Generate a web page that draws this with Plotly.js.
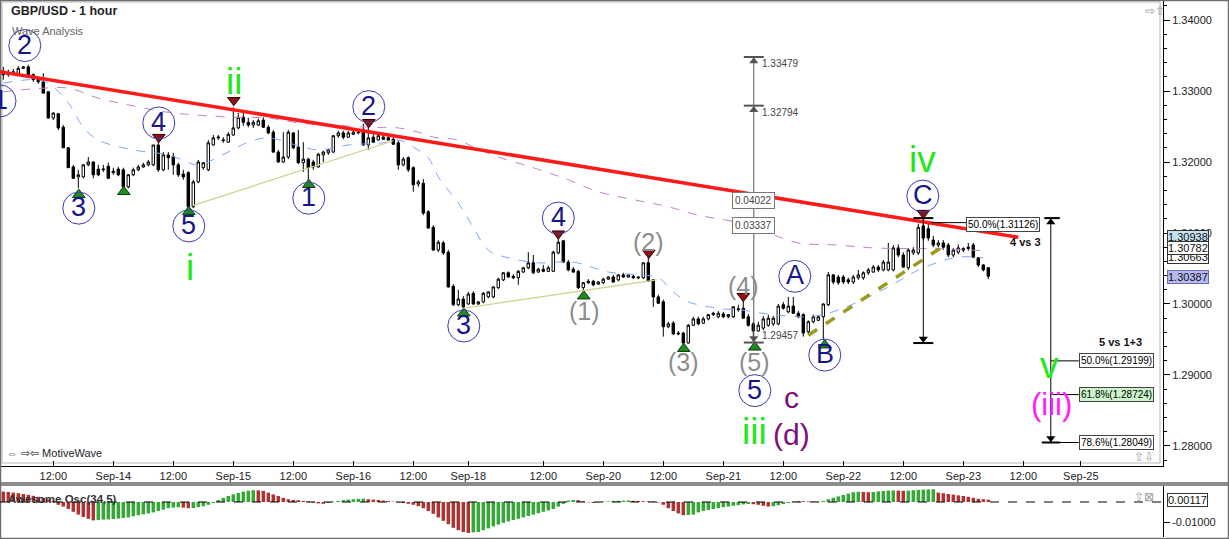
<!DOCTYPE html>
<html><head><meta charset="utf-8">
<script src="https://cdn.plot.ly/plotly-3.0.1.min.js"></script>
<style>html,body{margin:0;padding:0;background:#fff}#chart{width:1229px;height:539px}</style>
</head><body><div id="chart"></div>
<script>
// ---------- DATA (GBP/USD, 1 hour candles) ----------
const open = [
1.3328,1.3323,1.3325,1.3325,1.3332,1.3334,1.3323,1.3317,1.3313,1.3299,
1.3262,1.3268,1.3249,1.3220,1.3193,1.3179,1.3179,1.3196,1.3200,1.3190,
1.3189,1.3194,1.3185,1.3190,1.3189,1.3165,1.3182,1.3189,1.3193,1.3196,
1.3196,1.3224,1.3189,1.3210,1.3208,1.3196,1.3183,1.3185,1.3137,1.3172,
1.3192,1.3189,1.3224,1.3234,1.3230,1.3228,1.3238,1.3248,1.3263,1.3256,
1.3252,1.3252,1.3259,1.3249,1.3242,1.3214,1.3200,1.3207,1.3241,1.3221,
1.3199,1.3204,1.3200,1.3193,1.3210,1.3213,1.3214,1.3237,1.3241,1.3235,
1.3239,1.3241,1.3246,1.3224,1.3235,1.3231,1.3235,1.3234,1.3232,1.3227,
1.3196,1.3206,1.3192,1.3169,1.3170,1.3130,1.3108,1.3076,1.3086,1.3073,
1.3025,1.2999,1.3007,1.3000,1.3015,1.3000,1.3003,1.3010,1.3010,1.3023,
1.3034,1.3044,1.3039,1.3037,1.3045,1.3051,1.3058,1.3045,1.3049,1.3046,
1.3046,1.3072,1.3089,1.3059,1.3049,1.3046,1.3023,1.3030,1.3032,1.3028,
1.3030,1.3035,1.3038,1.3034,1.3041,1.3038,1.3039,1.3038,1.3037,1.3058,
1.3034,1.3010,1.3003,1.2968,1.2973,1.2959,1.2959,1.2945,1.2970,1.2979,
1.2973,1.2979,1.2985,1.2982,1.2986,1.2982,1.2982,1.2992,1.2994,1.2982,
1.2972,1.2962,1.2966,1.2970,1.2972,1.2972,1.2999,1.2989,1.2997,1.2987,
1.2985,1.2961,1.2975,1.2977,1.2982,1.2999,1.3041,1.3038,1.3038,1.3034,
1.3031,1.3037,1.3037,1.3044,1.3045,1.3052,1.3048,1.3048,1.3048,1.3079,
1.3069,1.3051,1.3072,1.3072,1.3110,1.3106,1.3090,1.3083,1.3086,1.3083,
1.3069,1.3073,1.3076,1.3078,1.3083,1.3065,1.3055,1.3051];
const high = [
1.3334,1.3330,1.3331,1.3335,1.3335,1.3337,1.3325,1.3320,1.3325,1.3299,
1.3270,1.3269,1.3252,1.3221,1.3196,1.3189,1.3197,1.3207,1.3201,1.3196,
1.3196,1.3199,1.3192,1.3193,1.3192,1.3183,1.3192,1.3196,1.3199,1.3203,
1.3224,1.3232,1.3214,1.3214,1.3213,1.3199,1.3189,1.3187,1.3175,1.3203,
1.3200,1.3231,1.3238,1.3238,1.3235,1.3242,1.3277,1.3269,1.3269,1.3262,
1.3259,1.3261,1.3263,1.3252,1.3245,1.3217,1.3242,1.3245,1.3242,1.3245,
1.3228,1.3206,1.3203,1.3213,1.3216,1.3218,1.3238,1.3244,1.3244,1.3244,
1.3245,1.3246,1.3254,1.3255,1.3241,1.3239,1.3239,1.3237,1.3235,1.3230,
1.3207,1.3208,1.3194,1.3175,1.3176,1.3132,1.3111,1.3090,1.3089,1.3076,
1.3028,1.3020,1.3011,1.3017,1.3018,1.3004,1.3017,1.3018,1.3025,1.3037,
1.3045,1.3046,1.3042,1.3048,1.3052,1.3073,1.3069,1.3051,1.3055,1.3054,
1.3075,1.3093,1.3090,1.3062,1.3052,1.3048,1.3031,1.3035,1.3034,1.3032,
1.3037,1.3039,1.3041,1.3042,1.3044,1.3042,1.3041,1.3039,1.3059,1.3068,
1.3035,1.3013,1.3006,1.2975,1.2976,1.2962,1.2961,1.2972,1.2982,1.2982,
1.2982,1.2986,1.2989,1.2990,1.2989,1.2986,1.2997,1.2999,1.3007,1.2986,
1.2975,1.2975,1.2983,1.2985,1.2983,1.3000,1.3003,1.3010,1.3010,1.2990,
1.2987,1.2977,1.2985,1.2983,1.3001,1.3045,1.3042,1.3041,1.3041,1.3037,
1.3041,1.3048,1.3046,1.3051,1.3055,1.3055,1.3062,1.3086,1.3083,1.3084,
1.3073,1.3079,1.3080,1.3113,1.3121,1.3113,1.3096,1.3090,1.3090,1.3086,
1.3079,1.3084,1.3080,1.3086,1.3086,1.3066,1.3056,1.3052];
const low = [
1.3316,1.3320,1.3323,1.3323,1.3331,1.3320,1.3313,1.3310,1.3297,1.3261,
1.3259,1.3245,1.3220,1.3192,1.3177,1.3163,1.3177,1.3194,1.3177,1.3180,
1.3186,1.3177,1.3182,1.3180,1.3162,1.3163,1.3180,1.3187,1.3192,1.3194,
1.3194,1.3186,1.3187,1.3189,1.3182,1.3179,1.3175,1.3135,1.3135,1.3170,
1.3189,1.3187,1.3223,1.3231,1.3227,1.3227,1.3237,1.3246,1.3251,1.3249,
1.3248,1.3251,1.3248,1.3239,1.3213,1.3199,1.3199,1.3204,1.3218,1.3197,
1.3186,1.3172,1.3189,1.3192,1.3200,1.3210,1.3213,1.3234,1.3232,1.3234,
1.3238,1.3239,1.3223,1.3217,1.3227,1.3230,1.3231,1.3230,1.3224,1.3189,
1.3194,1.3186,1.3158,1.3165,1.3125,1.3106,1.3075,1.3073,1.3069,1.3023,
1.2997,1.2997,1.2994,1.2999,1.2999,1.2999,1.3001,1.3008,1.3008,1.3021,
1.3032,1.3037,1.3035,1.3027,1.3044,1.3049,1.3042,1.3044,1.3045,1.3045,
1.3045,1.3070,1.3058,1.3046,1.3044,1.3021,1.3017,1.3028,1.3025,1.3027,
1.3028,1.3034,1.3030,1.3032,1.3037,1.3037,1.3035,1.3035,1.3035,1.3031,
1.2996,1.3000,1.2954,1.2966,1.2956,1.2956,1.2942,1.2944,1.2969,1.2970,
1.2972,1.2977,1.2983,1.2980,1.2980,1.2980,1.2980,1.2989,1.2979,1.2968,
1.2946,1.2961,1.2963,1.2968,1.2969,1.2970,1.2992,1.2987,1.2986,1.2980,
1.2954,1.2958,1.2973,1.2976,1.2949,1.2997,1.3028,1.3027,1.3028,1.3028,
1.3028,1.3034,1.3034,1.3041,1.3044,1.3045,1.3046,1.3046,1.3046,1.3066,
1.3051,1.3048,1.3069,1.3069,1.3090,1.3089,1.3080,1.3080,1.3076,1.3066,
1.3066,1.3070,1.3073,1.3075,1.3065,1.3052,1.3046,1.3035];
const close = [
1.3323,1.3325,1.3327,1.3332,1.3334,1.3323,1.3316,1.3313,1.3297,1.3262,
1.3269,1.3248,1.3220,1.3192,1.3177,1.3182,1.3196,1.3200,1.3182,1.3182,
1.3190,1.3177,1.3187,1.3182,1.3165,1.3182,1.3189,1.3193,1.3196,1.3200,
1.3224,1.3189,1.3210,1.3206,1.3196,1.3182,1.3179,1.3137,1.3172,1.3200,
1.3199,1.3227,1.3234,1.3235,1.3231,1.3239,1.3248,1.3263,1.3256,1.3252,
1.3256,1.3258,1.3249,1.3241,1.3214,1.3200,1.3207,1.3242,1.3220,1.3199,
1.3204,1.3192,1.3193,1.3211,1.3214,1.3217,1.3237,1.3241,1.3235,1.3241,
1.3242,1.3242,1.3224,1.3234,1.3228,1.3237,1.3232,1.3231,1.3225,1.3196,
1.3204,1.3189,1.3168,1.3172,1.3128,1.3107,1.3076,1.3087,1.3072,1.3024,
1.2999,1.3007,1.2996,1.3014,1.3000,1.3003,1.3015,1.3017,1.3024,1.3035,
1.3044,1.3038,1.3037,1.3046,1.3051,1.3058,1.3044,1.3049,1.3046,1.3051,
1.3073,1.3087,1.3059,1.3048,1.3045,1.3023,1.3030,1.3032,1.3027,1.3031,
1.3035,1.3038,1.3031,1.3041,1.3038,1.3041,1.3037,1.3037,1.3058,1.3032,
1.3010,1.3001,1.2968,1.2972,1.2958,1.2958,1.2945,1.2970,1.2979,1.2972,
1.2979,1.2985,1.2987,1.2987,1.2982,1.2985,1.2996,1.2993,1.2980,1.2970,
1.2962,1.2970,1.2979,1.2980,1.2980,1.2997,1.2994,1.2997,1.2987,1.2982,
1.2959,1.2975,1.2982,1.2982,1.3000,1.3041,1.3031,1.3030,1.3031,1.3031,
1.3038,1.3041,1.3044,1.3048,1.3052,1.3048,1.3059,1.3059,1.3079,1.3069,
1.3052,1.3076,1.3076,1.3108,1.3093,1.3093,1.3083,1.3086,1.3080,1.3069,
1.3076,1.3079,1.3078,1.3080,1.3066,1.3055,1.3048,1.3039];

// Awesome Oscillator (34,5)
const awesomeOsc = [
0.0052,0.0050,0.0047,0.0044,0.0040,0.0036,0.0031,0.0026,0.0020,0.0013,
0.0005,-0.0014,-0.0023,-0.0035,-0.0049,-0.0063,-0.0075,-0.0084,-0.0092,-0.0090,
-0.0088,-0.0087,-0.0085,-0.0083,-0.0080,-0.0077,-0.0071,-0.0066,-0.0062,-0.0057,
-0.0052,-0.0045,-0.0038,-0.0031,-0.0028,-0.0026,-0.0028,-0.0031,-0.0030,-0.0026,
-0.0021,-0.0014,-0.0005,0.0010,0.0021,0.0030,0.0038,0.0045,0.0052,0.0056,
0.0059,0.0058,0.0056,0.0047,0.0038,0.0030,0.0021,0.0014,0.0010,0.0009,
0.0005,0.0003,-0.0003,-0.0007,-0.0009,-0.0005,0.0001,0.0005,0.0009,0.0012,
0.0014,0.0016,0.0017,0.0014,0.0012,0.0010,0.0007,0.0005,0.0002,-0.0002,
-0.0005,-0.0009,-0.0014,-0.0021,-0.0031,-0.0045,-0.0059,-0.0077,-0.0094,-0.0111,
-0.0129,-0.0141,-0.0150,-0.0155,-0.0152,-0.0150,-0.0141,-0.0132,-0.0122,-0.0113,
-0.0104,-0.0097,-0.0090,-0.0084,-0.0077,-0.0070,-0.0063,-0.0056,-0.0049,-0.0042,
-0.0035,-0.0023,-0.0009,0.0007,0.0010,0.0009,0.0003,-0.0002,-0.0005,-0.0002,
0.0002,0.0003,0.0005,0.0006,0.0007,0.0008,0.0006,0.0005,0.0004,0.0003,
0.0002,-0.0002,-0.0014,-0.0031,-0.0045,-0.0057,-0.0066,-0.0065,-0.0063,-0.0052,
-0.0045,-0.0040,-0.0035,-0.0031,-0.0026,-0.0023,-0.0019,-0.0016,-0.0012,-0.0010,
-0.0011,-0.0014,-0.0019,-0.0023,-0.0021,-0.0016,-0.0010,-0.0005,0.0002,0.0005,
0.0004,0.0003,0.0002,0.0001,0.0005,0.0014,0.0021,0.0028,0.0035,0.0042,
0.0049,0.0051,0.0050,0.0049,0.0050,0.0053,0.0055,0.0057,0.0058,0.0057,
0.0056,0.0057,0.0059,0.0061,0.0062,0.0063,0.0064,0.0047,0.0044,0.0040,
0.0037,0.0033,0.0030,0.0026,0.0021,0.0016,0.0014,0.00117];

// Moving averages (sampled along the lines), x = bar number
const fastMaBar   = [0,6,9,13,16,19,26,33,39,43,49,53,59,63,69,76,79,82,85,87,91,94,97,101,107,114,121,127,131,134,137,144,147,154,161,165,171,177,184,191,196];
const fastMaPrice = [1.3311,1.3316,1.3311,1.3283,1.3249,1.3231,1.3217,1.3210,1.3196,1.3207,1.3228,1.3234,1.3223,1.3217,1.3224,1.3227,1.3231,1.3221,1.3206,1.3179,1.3142,1.3108,1.3076,1.3065,1.3058,1.3059,1.3045,1.3041,1.3037,1.3017,1.3003,1.2993,1.2992,1.2985,1.2982,1.2987,1.3003,1.3024,1.3051,1.3066,1.3065];
const slowMaBar   = [0,6,13,19,26,33,39,46,53,59,66,73,79,83,86,91,94,99,106,113,119,126,133,139,146,153,159,167,174,181,187,196];
const slowMaPrice = [1.3299,1.3303,1.3304,1.3290,1.3279,1.3270,1.3266,1.3263,1.3262,1.3255,1.3252,1.3249,1.3248,1.3242,1.3235,1.3231,1.3221,1.3207,1.3192,1.3175,1.3158,1.3147,1.3137,1.3125,1.3116,1.3100,1.3086,1.3083,1.3079,1.3078,1.3078,1.3075];

// time axis labels (bar number of each tick)
const tickBar  = [10,22,34,46,58,70,82,93,108,120,132,144,156,168,180,192,204,215.5];
const tickText = ['12:00','Sep-14','12:00','Sep-15','12:00','Sep-16','12:00','Sep-18','12:00','Sep-20','12:00','Sep-21','12:00','Sep-22','12:00','Sep-23','12:00','Sep-25'];

// trend lines [bar0, price0, bar1, price1]
const resistanceLine = [-0.66, 1.3327, 203, 1.3094];
const baseLine1 = [38, 1.3139, 78, 1.3230];
const baseLine2 = [92, 1.2994, 130.7, 1.3034];
const wave4Line = [161, 1.2956, 189, 1.3086];

// wave labels
const blueText  = ['2','1','3','4','5','1','2','3','4','5','A','B','C'];
const blueBar   = [4.3,-0.66,15.1,31.1,37.1,61.1,73.1,92.1,111,150.3,158.3,164.3,183.9];
const bluePrice = [1.3364,1.3286,1.3135,1.3255,1.3110,1.3149,1.3278,1.2969,1.3121,1.2878,1.3039,1.2928,1.3152];
const grayText  = ['(1)','(2)','(3)','(4)','(5)'];
const grayBar   = [116.3,129,136.1,148,150.3];
const grayPrice = [1.2990,1.3087,1.2918,1.3025,1.2918];
const greenText = ['i','ii','iii','iv','v'];
const greenBar  = [37.3,46.1,150.3,183.9,209.3];
const greenPrice= [1.3051,1.3313,1.2820,1.3203,1.2914];

// pivot markers
const pivotLowBar    = [15.1,24.1,37.1,61.1,92.1,116.1,136.1,150.3,164.3];
const pivotLowPrice  = [1.3154,1.3158,1.3130,1.3168,1.2987,1.3011,1.2937,1.2939,1.2942];
const pivotHighBar   = [31.1,46.1,73.1,111,129.1,148,184];
const pivotHighPrice = [1.3235,1.3287,1.3256,1.3099,1.3072,1.3011,1.3128];

// measurement / fibonacci
const measureBar = 150.1;
const measureLevels = [1.33479, 1.32794, 1.29457];
const waveCBar = 184, waveCTop = 1.3121, waveCBottom = 1.2945;
const projBar = 209.5, projTop = 1.3121;
const retraceLevel = 1.31126, retraceText = '50.0%(1.31126)';
const fibText  = ['50.0%(1.29199)','61.8%(1.28724)','78.6%(1.28049)'];
const fibPrice = [1.29199, 1.28724, 1.28049];

// right axis value tags
const tagText  = ['1.30938','1.30663','1.30782','1.30387'];
const tagPrice = [1.30938, 1.30663, 1.30782, 1.30387];
const aoLast = 0.00117;

// ---------- DRAWING ----------
const FONT = 'Liberation Sans, Arial, sans-serif';
const W = 1163, H = 539;
const px = v => v / W, py = v => (H - v) / H;
const bars = open.map((_, i) => i);
const aoColors = awesomeOsc.map((v, i) => (i > 0 && v >= awesomeOsc[i - 1]) ? '#35a935' : '#b03232');

const traces = [
  {type:'scatter', mode:'lines', x:slowMaBar, y:slowMaPrice, line:{color:'#c084c4', width:1, dash:'dash', shape:'spline'}, hoverinfo:'skip'},
  {type:'scatter', mode:'lines', x:fastMaBar, y:fastMaPrice, line:{color:'#7ea6ff', width:1, dash:'dash', shape:'spline'}, hoverinfo:'skip'},
  {type:'candlestick', x:bars, open:open, high:high, low:low, close:close, whiskerwidth:0,
   increasing:{line:{color:'#000', width:1}, fillcolor:'#ffffff'},
   decreasing:{line:{color:'#000', width:1}, fillcolor:'#000000'}, hoverinfo:'skip'},
  {type:'scatter', mode:'markers', x:pivotLowBar, y:pivotLowPrice, marker:{symbol:'triangle-up', size:11, color:'#1f8a1f', line:{color:'#0b3d0b', width:1}}, hoverinfo:'skip'},
  {type:'scatter', mode:'markers', x:pivotHighBar, y:pivotHighPrice, marker:{symbol:'triangle-down', size:11, color:'#8a1212', line:{color:'#3d0000', width:1}}, hoverinfo:'skip'},
  {type:'scatter', mode:'markers', x:[measureBar, measureBar], y:[measureLevels[0]-0.0006, measureLevels[1]-0.0006], marker:{symbol:'triangle-up', size:8, color:'#555'}, hoverinfo:'skip'},
  {type:'scatter', mode:'markers', x:[measureBar], y:[measureLevels[2]+0.0006], marker:{symbol:'triangle-down', size:8, color:'#555'}, hoverinfo:'skip'},
  {type:'scatter', mode:'markers', x:[projBar], y:[projTop-0.0006], marker:{symbol:'triangle-up', size:8, color:'#000'}, hoverinfo:'skip'},
  {type:'scatter', mode:'markers', x:[waveCBar, projBar], y:[waveCBottom+0.0006, fibPrice[2]+0.0006], marker:{symbol:'triangle-down', size:8, color:'#000'}, hoverinfo:'skip'},
  {type:'bar', x:bars, y:awesomeOsc, xaxis:'x', yaxis:'y2', width:0.7, marker:{color:aoColors, line:{width:0}}, hoverinfo:'skip'}
];

const shapes = [];
function seg(x0,y0,x1,y1,color,width,dash){ shapes.push({type:'line', xref:'x', yref:'y', x0, y0, x1, y1, line:{color, width, dash:dash||'solid'}}); }
// frame
shapes.push({type:'rect', xref:'paper', yref:'paper', x0:px(2), x1:px(1160), y0:py(463), y1:py(2), line:{color:'#b8b8b8', width:1}, layer:'below'});
shapes.push({type:'rect', xref:'paper', yref:'paper', x0:0, x1:px(1229), y0:py(486), y1:py(482), fillcolor:'#8c8c8c', line:{width:0}});
shapes.push({type:'rect', xref:'paper', yref:'paper', x0:px(0.5), x1:px(1228.5), y0:py(538.5), y1:py(0.5), line:{color:'#6e6e6e', width:1.5}});
shapes.push({type:'line', xref:'paper', yref:'y2', x0:0, x1:1, y0:0, y1:0, line:{color:'#000', width:1, dash:'dash'}});
// trend lines
seg(baseLine1[0],baseLine1[1],baseLine1[2],baseLine1[3],'#cfcf8a',1.2);
seg(baseLine2[0],baseLine2[1],baseLine2[2],baseLine2[3],'#cfcf8a',1.2);
seg(resistanceLine[0],resistanceLine[1],resistanceLine[2],resistanceLine[3],'#ff1a1a',3.5);
seg(wave4Line[0],wave4Line[1],wave4Line[2],wave4Line[3],'#9a9a1e',3.5,'dash');
// measure tool
seg(measureBar, measureLevels[0], measureBar, measureLevels[2], '#555', 1);
measureLevels.forEach(l => seg(measureBar-2, l, measureBar+2, l, '#555', 2));
// wave C drop
seg(waveCBar, waveCTop, waveCBar, waveCBottom, '#000', 1);
seg(waveCBar-2, waveCTop, waveCBar+2, waveCTop, '#000', 2);
seg(waveCBar-2, waveCBottom, waveCBar+2, waveCBottom, '#000', 2);
// projection
seg(projBar, projTop, projBar, fibPrice[2], '#000', 1);
seg(projBar-1.3, projTop, projBar+1.8, projTop, '#000', 2);
seg(projBar-1.8, fibPrice[2], projBar+1.8, fibPrice[2], '#000', 2);
seg(waveCBar+1.6, retraceLevel+0.0002, 192.6, retraceLevel+0.0002, '#000', 1);
fibPrice.forEach(p => seg(projBar, p, 215.1, p, '#000', 1));
// circles
blueBar.forEach((b, i) => shapes.push({type:'circle', xref:'x', yref:'y', xsizemode:'pixel', ysizemode:'pixel', xanchor:b, yanchor:bluePrice[i], x0:-16, x1:16, y0:-16, y1:16, line:{color:'#3b3bb0', width:1}}));

const ann = [];
function txt(x, y, text, size, color, opts){ ann.push(Object.assign({xref:'x', yref:'y', x, y, text, showarrow:false, yanchor:'middle', font:{family:FONT, size, color}}, opts||{})); }
blueText.forEach((t,i) => txt(blueBar[i], bluePrice[i], t, 27, '#16168a', {yshift:1}));
grayText.forEach((t,i) => txt(grayBar[i], grayPrice[i], t, 25, '#8c8c8c'));
greenText.forEach((t,i) => txt(greenBar[i], greenPrice[i], t, 37, '#22e81a'));
txt(157.7, 1.2868, 'c', 30, '#7d0f7d');
txt(157.7, 1.2816, '(d)', 30, '#7d0f7d');
txt(209.7, 1.2858, '(iii)', 31, '#ff1aff');
// measure labels
measureLevels.forEach((l,i) => txt(measureBar+1.3, i < 2 ? l-0.0009 : l+0.0010, l.toFixed(5), 10, '#444', {xanchor:'left'}));
txt(measureBar, 1.3146, (measureLevels[0]-measureLevels[2]).toFixed(5), 10, '#444', {bgcolor:'#fff', bordercolor:'#777', borderwidth:1, borderpad:2});
txt(measureBar, 1.3110, (measureLevels[1]-measureLevels[2]).toFixed(5), 10, '#444', {bgcolor:'#fff', bordercolor:'#777', borderwidth:1, borderpad:2});
// fib labels
txt(192.6, retraceLevel, retraceText, 10, '#000', {xanchor:'left', bgcolor:'#fff', bordercolor:'#444', borderwidth:1, borderpad:1});
fibText.forEach((t,i) => txt(215.1, fibPrice[i], t, 10, '#000', {xanchor:'left', bgcolor: i===1 ? '#ccf5cc' : '#fff', bordercolor:'#444', borderwidth:1, borderpad:1}));
txt(204.5, 1.3088, '4 vs 3', 11, '#111', {font:{family:FONT, size:11, color:'#111', weight:'bold'}});
txt(223.5, 1.2946, '5 vs 1+3', 11, '#111', {font:{family:FONT, size:11, color:'#111', weight:'bold'}});
// right value tags
const tagBg = ['#c3e2ee','#ffffff','#ffffff','#b8b8f2'];
tagText.forEach((t,i) => ann.push({xref:'paper', yref:'y', x:px(1167), y:tagPrice[i], xanchor:'left', yanchor:'middle', text:t, showarrow:false, font:{family:FONT, size:11, color:'#111'}, bgcolor:tagBg[i], bordercolor: i===3 ? '#6a6ab0' : '#333', borderwidth:1, borderpad:0}));
ann.push({xref:'paper', yref:'y2', x:px(1167), y:aoLast, xanchor:'left', yanchor:'middle', text:aoLast.toFixed(5), showarrow:false, font:{family:FONT, size:11, color:'#111'}, bgcolor:'#fff', bordercolor:'#333', borderwidth:1, borderpad:0});
// titles & UI text
function ptxt(x, y, text, size, color, opts){ ann.push(Object.assign({xref:'paper', yref:'paper', x:px(x), y:py(y), xanchor:'left', yanchor:'middle', text, showarrow:false, font:{family:FONT, size, color}}, opts||{})); }
ptxt(9, 11, 'GBP/USD - 1 hour', 12.5, '#222', {font:{family:FONT, size:12.5, color:'#222', weight:'bold'}});
ptxt(10, 31, 'Wave Analysis', 11, '#666');
ptxt(5, 453, '⇔ ⇨⇦ MotiveWave', 11, '#222');
ptxt(6, 499, 'Awesome Osc(34,5)', 11.5, '#333', {font:{family:FONT, size:11.5, color:'#333', weight:'bold'}});
ptxt(1143, 11, '⇨⇧', 12, '#9a9a9a');
ptxt(1132, 457, '⇧⇩', 12, '#9a9a9a');
ptxt(1132, 497, '⇧⊠', 12, '#9a9a9a');

const layout = {
  width:1229, height:539, margin:{l:0, r:66, t:0, b:0}, paper_bgcolor:'#fff', plot_bgcolor:'#fff',
  showlegend:false, dragmode:false,
  xaxis:{domain:[0,1], range:[-0.66, 231.94], anchor:'y', tickmode:'array', tickvals:tickBar, ticktext:tickText,
         ticks:'inside', ticklen:5, tickcolor:'#000', showline:true, linecolor:'#000', linewidth:1,
         showgrid:false, zeroline:false, rangeslider:{visible:false}, tickfont:{family:FONT, size:11, color:'#222'}, fixedrange:true},
  yaxis:{domain:[py(466), 1], range:[1.27718, 1.34282], side:'right', anchor:'x', tickmode:'linear', tick0:1.28, dtick:0.01, tickformat:'.5f',
         ticks:'outside', ticklen:6, tickcolor:'#000', minor:{dtick:0.002, ticks:'outside', ticklen:3, tickcolor:'#000', showgrid:false},
         showline:true, linecolor:'#000', showgrid:false, zeroline:false, tickfont:{family:FONT, size:11, color:'#222'}, fixedrange:true},
  yaxis2:{domain:[py(537), py(486)], range:[-0.0175, 0.008], side:'right', anchor:'x', tickmode:'array', tickvals:[-0.01], ticktext:['-0.01000'],
          ticks:'outside', ticklen:6, tickcolor:'#000', showline:true, linecolor:'#000', showgrid:false, zeroline:false,
          tickfont:{family:FONT, size:11, color:'#222'}, fixedrange:true},
  bargap:0.3, shapes:shapes, annotations:ann
};
Plotly.newPlot('chart', traces, layout, {displayModeBar:false, staticPlot:true});
</script></body></html>
